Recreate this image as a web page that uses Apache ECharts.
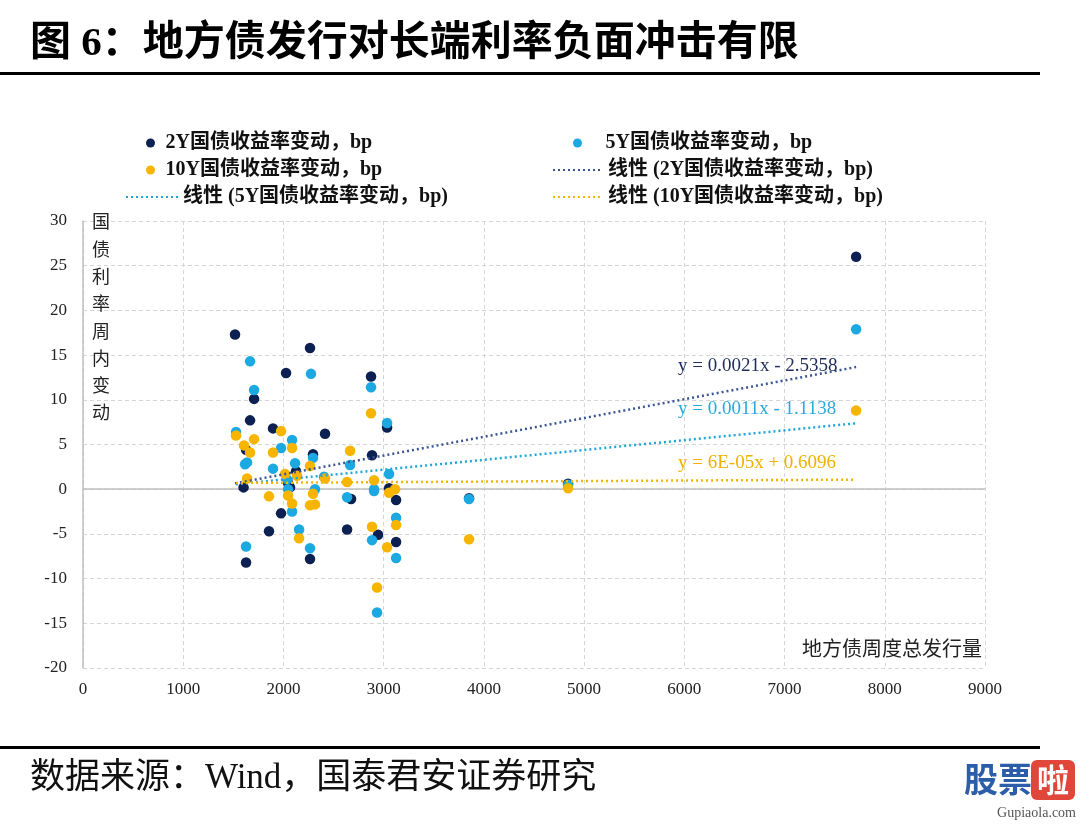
<!DOCTYPE html>
<html><head><meta charset="utf-8">
<script src="https://cdn.jsdelivr.net/npm/echarts@6/dist/echarts.min.js"></script>
<style>html,body{margin:0;padding:0;background:#fff}#c{width:1080px;height:825px}</style>
</head><body><div id="c"></div><script>
// ---- data ----
const seriesNames = ['2Y国债收益率变动，bp', '5Y国债收益率变动，bp', '10Y国债收益率变动，bp'];
const trendNames = ['线性 (2Y国债收益率变动，bp)', '线性 (5Y国债收益率变动，bp)', '线性 (10Y国债收益率变动，bp)'];
const pts2Y = [[1517,17.3],[2265,15.8],[2026,13.0],[1707,10.1],[1667,7.7],[1896,6.8],[2415,6.2],[1627,4.4],[2295,3.9],[2126,2.0],
  [1602,0.2],[2046,0.7],[2066,0.2],[1976,-2.7],[1856,-4.7],[1627,-8.2],[2265,-7.8],[2874,12.6],[3034,6.9],[2884,3.8],
  [3054,0.1],[3124,-1.2],[2675,-1.1],[2635,-4.5],[2944,-5.1],[3124,-5.9],[3852,-1.0],[4840,0.6],[7714,26.0]];
const pts5Y = [[1667,14.3],[2275,12.9],[1707,11.1],[1527,6.4],[2086,5.5],[1976,4.6],[2295,3.5],[1617,2.8],[1637,3.0],[1896,2.3],
  [2116,2.9],[2036,1.1],[2405,1.4],[2046,0.0],[2315,0.0],[2086,-2.5],[2156,-4.5],[1627,-6.4],[2265,-6.6],[2874,11.4],
  [3034,7.4],[2665,2.7],[3054,1.7],[2904,0.0],[2904,-0.2],[2635,-0.9],[3124,-3.2],[2884,-5.7],[3124,-7.7],[2934,-13.8],
  [3852,-1.1],[4840,0.5],[7714,17.9]];
const pts10Y = [[1527,6.0],[1976,6.5],[1707,5.6],[1607,4.9],[2086,4.6],[1667,4.1],[1896,4.1],[2265,2.6],[1637,1.2],[2016,1.7],
  [2136,1.5],[2415,1.2],[2295,-0.5],[1856,-0.8],[2046,-0.7],[2086,-1.6],[2265,-1.8],[2315,-1.7],[2156,-5.5],[2874,8.5],
  [2665,4.3],[2635,0.8],[2904,1.0],[3114,0.0],[3054,-0.4],[3124,-4.0],[2884,-4.2],[3034,-6.5],[2934,-11.0],[3852,-5.6],
  [4840,0.1],[7714,8.8]];
const fitSlope = [0.0021, 0.0011, 0.00006];
const fitIntercept = [-2.5358, -1.1138, 0.6096];
const fitLabels = ['y = 0.0021x - 2.5358', 'y = 0.0011x - 1.1138', 'y = 6E-05x + 0.6096'];
const xAxisName = '地方债周度总发行量';
const yAxisName = '国债利率周内变动';
const titleText = '图 6：地方债发行对长端利率负面冲击有限';
const sourceText = '数据来源：Wind，国泰君安证券研究';

// ---- styles ----
const colors = ['#0C2052', '#1CA9E2', '#F7B500'];
const lineColors = ['#3C5595', '#1FA6D9', '#F2B705'];
const labelColors = ['#1F2D5C', '#2AA8DC', '#F0B000'];
const serif = "'Liberation Serif','Noto Sans CJK SC',serif";

const allPts = [pts2Y, pts5Y, pts10Y];
function trend(i) {
  const xs = allPts[i].map(p => p[0]);
  const lo = Math.min(...xs), hi = Math.max(...xs);
  return [[lo, fitSlope[i] * lo + fitIntercept[i]], [hi, fitSlope[i] * hi + fitIntercept[i]]];
}

const series = [];
allPts.forEach((pts, i) => {
  series.push({
    name: seriesNames[i], type: 'scatter', data: pts, symbolSize: 10.5,
    itemStyle: { color: colors[i], opacity: 1 }, z: 3,
    markLine: i === 0 ? { silent: true, symbol: 'none', label: { show: false },
      lineStyle: { color: '#bfbfbf', width: 1.5, type: 'solid' }, data: [{ yAxis: 0 }], z: 1 } : undefined
  });
});
[0, 1, 2].forEach(i => {
  series.push({
    name: trendNames[i], type: 'line', data: trend(i), symbol: 'none', showSymbol: false,
    lineStyle: { color: lineColors[i], width: 2.5, type: [2, 3] }, itemStyle: { color: lineColors[i] }, z: 4
  });
});

const legTS = { fontFamily: serif, fontWeight: 'bold', fontSize: 20, color: '#111' };
function leg(name, left, top, w, isLine) {
  const l = { data: [name], left, top, itemWidth: w, itemHeight: 9, padding: 0, itemGap: 0,
    selectedMode: false, textStyle: legTS };
  if (isLine) l.itemStyle = { color: 'rgba(0,0,0,0)', borderWidth: 0, opacity: 0 };
  return l;
}

const graphic = [
  { type: 'text', style: { text: titleText, x: 30, y: 44, fontSize: 41, fontWeight: 'bold',
      fontFamily: serif, fill: '#000', verticalAlign: 'middle' } },
  { type: 'rect', shape: { x: 0, y: 72, width: 1040, height: 3 }, style: { fill: '#000' } },
  { type: 'rect', shape: { x: 0, y: 746, width: 1040, height: 3 }, style: { fill: '#000' } },
  { type: 'text', style: { text: sourceText, x: 30, y: 779, fontSize: 35,
      fontFamily: serif, fill: '#111', verticalAlign: 'middle' } },
  { type: 'text', z: 10, style: { text: yAxisName.split('').join('\n'), x: 101, y: 210, fontSize: 18,
      lineHeight: 27.3, fontFamily: serif, fill: '#222', align: 'center' } },
  { type: 'text', z: 10, style: { text: xAxisName, x: 984, y: 651, fontSize: 20,
      fontFamily: serif, fill: '#222', align: 'right', verticalAlign: 'middle',
      backgroundColor: '#fff', padding: [2, 2, 2, 4] } },
  // watermark
  { type: 'text', style: { text: '股票', x: 964, y: 779, fontSize: 34, fontWeight: 'bold',
      fontFamily: "'Noto Sans CJK SC',sans-serif", fill: '#2B5DA8', verticalAlign: 'middle' } },
  { type: 'rect', shape: { x: 1031, y: 760, width: 44, height: 40, r: 6 }, style: { fill: '#E0463A' } },
  { type: 'text', style: { text: '啦', x: 1053, y: 780, fontSize: 32, fontWeight: 'bold',
      fontFamily: "'Noto Sans CJK SC',sans-serif", fill: '#fff', align: 'center', verticalAlign: 'middle' } },
  { type: 'text', style: { text: 'Gupiaola.com', x: 1076, y: 813, fontSize: 14,
      fontFamily: serif, fill: '#555', align: 'right', verticalAlign: 'middle' } }
];
[366, 409, 463].forEach((y, i) => {
  graphic.push({ type: 'text', z: 10, style: { text: fitLabels[i], x: 678, y, fontSize: 19,
    fontFamily: serif, fill: labelColors[i], verticalAlign: 'middle' } });
});

const option = {
  animation: false,
  backgroundColor: '#fff',
  grid: { left: 83, right: 95, top: 221, bottom: 157, containLabel: false },
  xAxis: {
    type: 'value', min: 0, max: 9000, interval: 1000,
    axisLine: { show: false }, axisTick: { show: false },
    axisLabel: { fontFamily: serif, fontSize: 17, color: '#222', margin: 13, formatter: v => String(v) },
    splitLine: { show: true, lineStyle: { color: '#d6d6d6', type: [4, 3], width: 1 } }
  },
  yAxis: {
    type: 'value', min: -20, max: 30, interval: 5,
    axisLine: { show: true, onZero: false, lineStyle: { color: '#bfbfbf', width: 1.5 } }, axisTick: { show: false },
    axisLabel: { fontFamily: serif, fontSize: 17, color: '#222', margin: 16, formatter: v => String(v) },
    splitLine: { show: true, lineStyle: { color: '#d6d6d6', type: [4, 3], width: 1 } }
  },
  legend: [
    leg(seriesNames[0], 146, 133, 20),
    leg(seriesNames[1], 573, 133, 46),
    leg(seriesNames[2], 146, 160, 20),
    leg(trendNames[0], 552, 160, 50, true),
    leg(trendNames[1], 125, 187, 52, true),
    leg(trendNames[2], 552, 187, 50, true)
  ],
  series,
  graphic
};
const chart = echarts.init(document.getElementById('c'), null, { renderer: 'canvas' });
chart.setOption(option);
</script></body></html>
